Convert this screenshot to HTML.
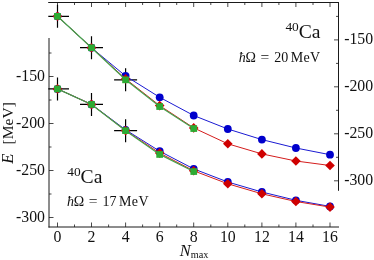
<!DOCTYPE html>
<html><head><meta charset="utf-8"><title>40Ca energy vs Nmax</title>
<style>
html,body{margin:0;padding:0;background:#fff;}
svg{display:block;will-change:transform;}
text{font-family:"Liberation Serif",serif;fill:#111;}
</style></head><body>
<svg width="374" height="260" viewBox="0 0 374 260">
<defs><clipPath id="cp"><rect x="48.3" y="0" width="300" height="260"/></clipPath></defs>
<path d="M49.0,38V227.5M48.5,227.0H339.0" fill="none" stroke="#1a1a1a" stroke-width="1"/>
<path d="M48.2,2.5H339.0M338.5,2.0V190.8" fill="none" stroke="#1a1a1a" stroke-width="1"/>
<path d="M57.5,227.0v-4.5M57.5,2.5v4.5M74.5,227.0v-2.5M74.5,2.5v2.5M91.5,227.0v-4.5M91.5,2.5v4.5M108.6,227.0v-2.5M108.6,2.5v2.5M125.6,227.0v-4.5M125.6,2.5v4.5M142.6,227.0v-2.5M142.6,2.5v2.5M159.7,227.0v-4.5M159.7,2.5v4.5M176.7,227.0v-2.5M176.7,2.5v2.5M193.7,227.0v-4.5M193.7,2.5v4.5M210.8,227.0v-2.5M210.8,2.5v2.5M227.8,227.0v-4.5M227.8,2.5v4.5M244.8,227.0v-2.5M244.8,2.5v2.5M261.9,227.0v-4.5M261.9,2.5v4.5M278.9,227.0v-2.5M278.9,2.5v2.5M295.9,227.0v-4.5M295.9,2.5v4.5M313.0,227.0v-2.5M313.0,2.5v2.5M330.0,227.0v-4.5M330.0,2.5v4.5M49.0,53.0h2.5M49.0,76.5h4.5M49.0,100.0h2.5M49.0,123.5h4.5M49.0,147.0h2.5M49.0,170.5h4.5M49.0,194.0h2.5M49.0,217.5h4.5M338.5,16.4h-2.5M338.5,39.9h-4.5M338.5,63.4h-2.5M338.5,86.8h-4.5M338.5,110.3h-2.5M338.5,133.8h-4.5M338.5,157.3h-2.5M338.5,180.8h-4.5" fill="none" stroke="#1a1a1a" stroke-width="0.8"/>
<path d="M46.0,16.3H69.0M57.5,4.8V27.8" stroke="#000" stroke-width="1.2" fill="none" clip-path="url(#cp)"/>
<path d="M80.0,47.7H103.0M91.5,36.2V59.2" stroke="#000" stroke-width="1.2" fill="none" clip-path="url(#cp)"/>
<path d="M114.1,79.8H137.1M125.6,68.3V91.3" stroke="#000" stroke-width="1.2" fill="none" clip-path="url(#cp)"/>
<path d="M46.0,88.9H69.0M57.5,77.4V100.4" stroke="#000" stroke-width="1.2" fill="none" clip-path="url(#cp)"/>
<path d="M80.0,104.4H103.0M91.5,92.9V115.9" stroke="#000" stroke-width="1.2" fill="none" clip-path="url(#cp)"/>
<path d="M114.1,130.7H137.1M125.6,119.2V142.2" stroke="#000" stroke-width="1.2" fill="none" clip-path="url(#cp)"/>
<polyline points="57.5,16.3 91.5,47.7 125.6,76.0 159.7,97.3 193.7,115.5 227.8,129.0 261.9,139.6 295.9,148.0 330.0,154.7" fill="none" stroke="#1a1ad2" stroke-width="1.0"/>
<polyline points="57.5,88.9 91.5,104.4 125.6,129.8 159.7,151.2 193.7,168.9 227.8,182.0 261.9,192.0 295.9,200.3 330.0,206.4" fill="none" stroke="#1a1ad2" stroke-width="1.0"/>
<circle cx="57.5" cy="16.3" r="3.9" fill="#0000cc"/>
<circle cx="91.5" cy="47.7" r="3.9" fill="#0000cc"/>
<circle cx="125.6" cy="76.0" r="3.9" fill="#0000cc"/>
<circle cx="159.7" cy="97.3" r="3.9" fill="#0000cc"/>
<circle cx="193.7" cy="115.5" r="3.9" fill="#0000cc"/>
<circle cx="227.8" cy="129.0" r="3.9" fill="#0000cc"/>
<circle cx="261.9" cy="139.6" r="3.9" fill="#0000cc"/>
<circle cx="295.9" cy="148.0" r="3.9" fill="#0000cc"/>
<circle cx="330.0" cy="154.7" r="3.9" fill="#0000cc"/>
<circle cx="57.5" cy="88.9" r="3.9" fill="#0000cc"/>
<circle cx="91.5" cy="104.4" r="3.9" fill="#0000cc"/>
<circle cx="125.6" cy="129.8" r="3.9" fill="#0000cc"/>
<circle cx="159.7" cy="151.2" r="3.9" fill="#0000cc"/>
<circle cx="193.7" cy="168.9" r="3.9" fill="#0000cc"/>
<circle cx="227.8" cy="182.0" r="3.9" fill="#0000cc"/>
<circle cx="261.9" cy="192.0" r="3.9" fill="#0000cc"/>
<circle cx="295.9" cy="200.3" r="3.9" fill="#0000cc"/>
<circle cx="330.0" cy="206.4" r="3.9" fill="#0000cc"/>
<polyline points="57.5,16.3 91.5,47.7 125.6,78.9 159.7,105.6 193.7,127.9 227.8,143.8 261.9,153.9 295.9,161.0 330.0,165.5" fill="none" stroke="#d41c1c" stroke-width="1.0"/>
<polyline points="57.5,88.9 91.5,104.4 125.6,130.6 159.7,153.1 193.7,170.8 227.8,183.8 261.9,193.8 295.9,201.5 330.0,207.1" fill="none" stroke="#d41c1c" stroke-width="1.0"/>
<path d="M57.5,11.5L62.2,16.3L57.5,21.1L52.7,16.3Z" fill="#cf0000"/>
<path d="M91.5,42.9L96.3,47.7L91.5,52.5L86.7,47.7Z" fill="#cf0000"/>
<path d="M125.6,74.1L130.4,78.9L125.6,83.7L120.8,78.9Z" fill="#cf0000"/>
<path d="M159.7,100.8L164.5,105.6L159.7,110.4L154.9,105.6Z" fill="#cf0000"/>
<path d="M193.7,123.1L198.5,127.9L193.7,132.7L188.9,127.9Z" fill="#cf0000"/>
<path d="M227.8,139.0L232.6,143.8L227.8,148.6L223.0,143.8Z" fill="#cf0000"/>
<path d="M261.9,149.1L266.7,153.9L261.9,158.7L257.1,153.9Z" fill="#cf0000"/>
<path d="M295.9,156.2L300.7,161.0L295.9,165.8L291.1,161.0Z" fill="#cf0000"/>
<path d="M330.0,160.7L334.8,165.5L330.0,170.3L325.2,165.5Z" fill="#cf0000"/>
<path d="M57.5,84.1L62.2,88.9L57.5,93.7L52.7,88.9Z" fill="#cf0000"/>
<path d="M91.5,99.6L96.3,104.4L91.5,109.2L86.7,104.4Z" fill="#cf0000"/>
<path d="M125.6,125.8L130.4,130.6L125.6,135.4L120.8,130.6Z" fill="#cf0000"/>
<path d="M159.7,148.3L164.5,153.1L159.7,157.9L154.9,153.1Z" fill="#cf0000"/>
<path d="M193.7,166.0L198.5,170.8L193.7,175.6L188.9,170.8Z" fill="#cf0000"/>
<path d="M227.8,179.0L232.6,183.8L227.8,188.6L223.0,183.8Z" fill="#cf0000"/>
<path d="M261.9,189.0L266.7,193.8L261.9,198.6L257.1,193.8Z" fill="#cf0000"/>
<path d="M295.9,196.7L300.7,201.5L295.9,206.3L291.1,201.5Z" fill="#cf0000"/>
<path d="M330.0,202.3L334.8,207.1L330.0,211.9L325.2,207.1Z" fill="#cf0000"/>
<polyline points="57.5,16.3 91.5,47.7 125.6,79.8 159.7,106.5 193.7,128.6" fill="none" stroke="#45a24c" stroke-width="1.2"/>
<polyline points="57.5,88.9 91.5,104.4 125.6,130.7 159.7,154.4 193.7,171.5" fill="none" stroke="#45a24c" stroke-width="1.2"/>
<rect x="54.1" y="13.0" width="6.7" height="6.7" fill="#2cab33"/>
<rect x="88.2" y="44.4" width="6.7" height="6.7" fill="#2cab33"/>
<rect x="122.2" y="76.5" width="6.7" height="6.7" fill="#2cab33"/>
<rect x="156.3" y="103.2" width="6.7" height="6.7" fill="#2cab33"/>
<rect x="190.4" y="125.2" width="6.7" height="6.7" fill="#2cab33"/>
<rect x="54.1" y="85.6" width="6.7" height="6.7" fill="#2cab33"/>
<rect x="88.2" y="101.1" width="6.7" height="6.7" fill="#2cab33"/>
<rect x="122.2" y="127.3" width="6.7" height="6.7" fill="#2cab33"/>
<rect x="156.3" y="151.1" width="6.7" height="6.7" fill="#2cab33"/>
<rect x="190.4" y="168.2" width="6.7" height="6.7" fill="#2cab33"/>
<g>
<text x="45" y="80.8" text-anchor="end" font-size="15.8">-150</text>
<text x="344.2" y="44.3" font-size="15.8">-150</text>
<text x="45" y="127.8" text-anchor="end" font-size="15.8">-200</text>
<text x="344.2" y="91.3" font-size="15.8">-200</text>
<text x="45" y="174.8" text-anchor="end" font-size="15.8">-250</text>
<text x="344.2" y="138.3" font-size="15.8">-250</text>
<text x="45" y="221.8" text-anchor="end" font-size="15.8">-300</text>
<text x="344.2" y="185.3" font-size="15.8">-300</text>
<text x="57.5" y="241.5" text-anchor="middle" font-size="15.8">0</text>
<text x="91.5" y="241.5" text-anchor="middle" font-size="15.8">2</text>
<text x="125.6" y="241.5" text-anchor="middle" font-size="15.8">4</text>
<text x="159.7" y="241.5" text-anchor="middle" font-size="15.8">6</text>
<text x="193.7" y="241.5" text-anchor="middle" font-size="15.8">8</text>
<text x="227.8" y="241.5" text-anchor="middle" font-size="15.8">10</text>
<text x="261.9" y="241.5" text-anchor="middle" font-size="15.8">12</text>
<text x="295.9" y="241.5" text-anchor="middle" font-size="15.8">14</text>
<text x="330.0" y="241.5" text-anchor="middle" font-size="15.8">16</text>
<text font-size="16.4"><tspan x="179.8" y="255.7" font-style="italic">N</tspan><tspan font-size="10.3" x="190.7" y="257.7">max</tspan></text>
<text transform="translate(12.9,163.8) rotate(-90)" font-size="15.6"><tspan font-style="italic" font-size="16.6">E</tspan><tspan x="19.3">[MeV]</tspan></text>
<text x="285.4" y="38" font-size="19.6"><tspan font-size="13.4" dy="-7.5">40</tspan><tspan dy="7.5">Ca</tspan></text>
<text y="62" font-size="14"><tspan x="238.8" font-style="italic">ħ</tspan><tspan x="245.6">Ω</tspan><tspan x="260.6" font-size="15.5">=</tspan><tspan x="274.2">20</tspan><tspan x="290.8" letter-spacing="0.25">MeV</tspan></text>
<text x="67.2" y="183.0" font-size="19.6"><tspan font-size="13.4" dy="-7.5">40</tspan><tspan dy="7.5">Ca</tspan></text>
<text y="206.4" font-size="14"><tspan x="66.9" font-style="italic">ħ</tspan><tspan x="73.8">Ω</tspan><tspan x="88.8" font-size="15.5">=</tspan><tspan x="102.5">17</tspan><tspan x="118.9" letter-spacing="0.45">MeV</tspan></text>
</g>
</svg>
</body></html>
